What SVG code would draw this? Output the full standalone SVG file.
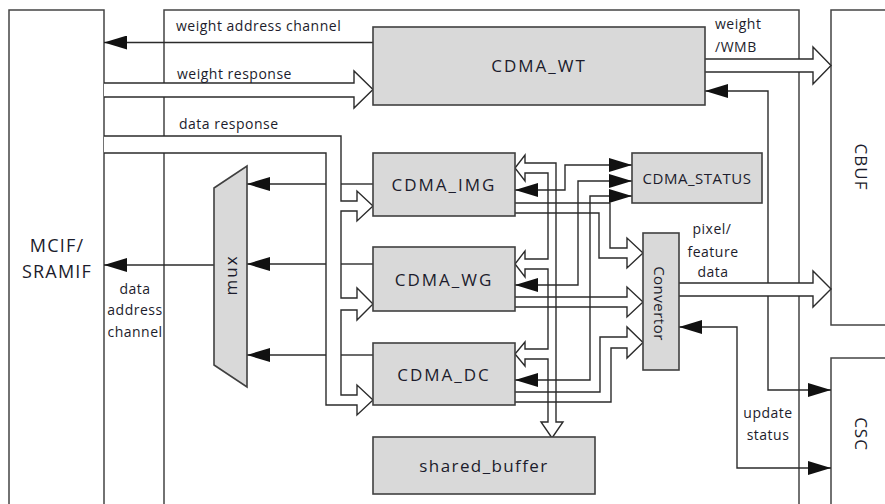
<svg xmlns="http://www.w3.org/2000/svg" width="885" height="504" viewBox="0 0 885 504">
  <style>
    .frame { fill: none; stroke: #444; stroke-width: 1.5; }
    .box { fill: #d9d9d9; stroke: #404040; stroke-width: 1.6; }
    .wire { fill: none; stroke: #2b2b2b; stroke-width: 1.4; }
    .bus { fill: none; stroke: #2b2b2b; stroke-width: 1.4; stroke-linejoin: miter; }
    .bus-w { fill: #ffffff; stroke: #2b2b2b; stroke-width: 1.4; stroke-linejoin: miter; }
    .arr { marker-end: url(#head); }
    .arr2 { marker-start: url(#head); marker-end: url(#head); }
    .lbl { font-family: "Open Sans", "Noto Sans", sans-serif; font-size: 17px; letter-spacing: 2px; fill: #1c1c2c; text-anchor: middle; }
    .sm { font-family: "Open Sans", "Noto Sans", sans-serif; font-size: 14px; letter-spacing: 0.5px; fill: #1c1c2c; }
    .smc { text-anchor: middle; }
  </style>
  <defs>
    <marker id="head" markerUnits="userSpaceOnUse" markerWidth="23" markerHeight="14" viewBox="0 0 23 14" refX="23" refY="7" orient="auto-start-reverse">
      <path d="M0,0 L23,7 L0,14 Z" fill="#111"/>
    </marker>
  </defs>

  <!-- outer blocks -->
  <g id="mcif">
    <path class="frame" d="M9,504 V10 H104 V504"/>
    <text class="lbl" style="font-size:18px;letter-spacing:1.2px" x="57" y="252">MCIF/</text>
    <text class="lbl" style="font-size:18px;letter-spacing:1.2px" x="57" y="278">SRAMIF</text>
  </g>
  <g id="cdma">
    <path class="frame" d="M164,504 V10 H799 V504"/>
  </g>
  <g id="cbuf">
    <path class="frame" d="M885,10 H831 V325 H885"/>
    <text class="lbl" style="letter-spacing:1px" transform="translate(855,167) rotate(90)">CBUF</text>
  </g>
  <g id="csc">
    <path class="frame" d="M885,358 H831 V504"/>
    <text class="lbl" style="letter-spacing:1px" transform="translate(855,434) rotate(90)">CSC</text>
  </g>

  <!-- connectors -->
  <g id="connectors">
    <!-- weight side -->
    <path class="wire arr" d="M373,42.5 H104"/>
    <path class="bus-w" d="M104,83 H354 V71 L373,89.5 L354,108 V97 H104"/>
    <path class="bus-w" d="M705,59 H813 V47 L831,65.5 L813,84 V72 H705"/>
    <path class="wire arr2" d="M705,91 H768 V390 H831"/>

    <!-- data address channel through mux -->
    <path class="wire arr" d="M214,265 H104"/>
    <path class="wire arr" d="M326,184 H247"/>
    <path class="wire" d="M373,184 H341"/>
    <path class="wire arr" d="M326,264 H247"/>
    <path class="wire" d="M373,264 H341"/>
    <path class="wire arr" d="M326,355 H247"/>
    <path class="wire" d="M373,355 H341"/>

    <!-- data response bus -->
    <path class="bus-w" d="M104,136 H341 V201 H357 V191 L373,206 L357,221 V211 H341 V298 H357 V288 L373,304 L357,320 V310 H341 V395 H357 V385 L373,400 L357,415 V405 H326 V153 H104"/>

    <!-- shared buffer bus -->
    <path class="bus" d="M515,168 L525,155 V163 H556 V422 H563 L552,438 L541,422 H548 V359 H525 V366 L515,354 L525,342 V349 H548 V269 H525 V277 L515,264 L525,251 V259 H548 V173 H525 V181 Z"/>

    <!-- status links -->
    <path class="wire arr2" d="M515,190 H565 V165 H632"/>
    <path class="wire arr2" d="M515,285 H578 V181 H632"/>
    <path class="wire arr2" d="M515,380 H590 V196 H632"/>

    <!-- buses into convertor -->
    <path class="bus" d="M515,203 H610 V248 H627 V238 L643,253 L627,268 V258 H599 V213 H515"/>
    <path class="bus" d="M515,297 H627 V287 L643,302 L627,317 V307 H515"/>
    <path class="bus" d="M515,392 H600 V337 H627 V327 L643,342.5 L627,358 V348 H611 V402 H515"/>

    <!-- convertor outputs -->
    <path class="bus-w" d="M679,283 H813 V271 L831,289 L813,307 V296 H679"/>
    <path class="wire arr2" d="M679,327 H737 V468 H831"/>
  </g>

  <!-- inner blocks -->
  <g id="cdma_wt">
    <rect class="box" x="373" y="27" width="332" height="78"/>
    <text class="lbl" x="539" y="72">CDMA_WT</text>
  </g>
  <g id="mux">
    <polygon class="box" points="214,188 247,166 247,387 214,365"/>
    <text class="lbl" transform="translate(237,275) rotate(-90)">mux</text>
  </g>
  <g id="cdma_img">
    <rect class="box" x="373" y="153" width="142" height="63"/>
    <text class="lbl" x="444" y="190.5">CDMA_IMG</text>
  </g>
  <g id="cdma_wg">
    <rect class="box" x="373" y="247" width="142" height="64"/>
    <text class="lbl" x="444" y="285.5">CDMA_WG</text>
  </g>
  <g id="cdma_dc">
    <rect class="box" x="373" y="343" width="142" height="62"/>
    <text class="lbl" x="444" y="380.5">CDMA_DC</text>
  </g>
  <g id="shared_buffer">
    <rect class="box" x="373" y="437" width="222" height="57"/>
    <text class="lbl" style="letter-spacing:1.4px" x="484" y="471.5">shared_buffer</text>
  </g>
  <g id="cdma_status">
    <rect class="box" x="632" y="153" width="130" height="50"/>
    <text class="lbl" style="font-size:15px;letter-spacing:0.5px" x="697" y="183.5">CDMA_STATUS</text>
  </g>
  <g id="convertor">
    <rect class="box" x="643" y="233" width="36" height="137"/>
    <text class="lbl" style="font-size:15px;letter-spacing:0.5px" transform="translate(654,303.5) rotate(90)">Convertor</text>
  </g>

  <!-- signal labels -->
  <g id="labels">
    <text class="sm" x="176" y="31">weight address channel</text>
    <text class="sm" x="177" y="79">weight response</text>
    <text class="sm" x="179" y="129">data response</text>
    <text class="sm" x="715" y="28.5">weight</text>
    <text class="sm" x="715" y="52">/WMB</text>
    <text class="sm smc" x="712" y="234">pixel/</text>
    <text class="sm smc" x="713" y="256.5">feature</text>
    <text class="sm smc" x="713" y="276.5">data</text>
    <text class="sm smc" x="768" y="418">update</text>
    <text class="sm smc" x="768" y="440">status</text>
    <text class="sm smc" x="135" y="294">data</text>
    <text class="sm smc" x="135" y="315">address</text>
    <text class="sm smc" x="135" y="336.5">channel</text>
  </g>
</svg>
